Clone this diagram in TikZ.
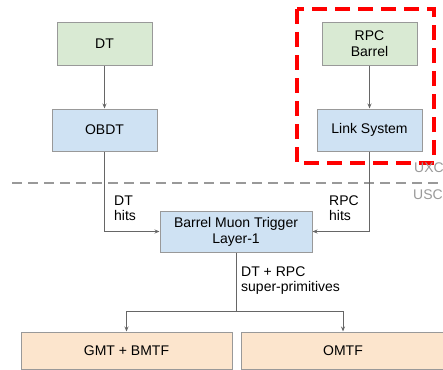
\documentclass[tikz,border=0pt]{standalone}
\usepackage{fontspec}
\setmainfont{Liberation Sans}
\usetikzlibrary{arrows.meta}
\definecolor{gfill}{HTML}{D9EAD3}
\definecolor{bfill}{HTML}{CFE2F3}
\definecolor{ofill}{HTML}{FCE5CD}
\definecolor{bord}{HTML}{999999}
\definecolor{conn}{HTML}{666666}
\tikzset{
  box/.style={draw=bord, line width=1pt, minimum height=42pt, align=center, font=\fontsize{14}{16}\selectfont, inner sep=0pt},
  gbox/.style={box, fill=gfill, minimum width=95pt},
  bbox/.style={box, fill=bfill, minimum width=105pt},
  obox/.style={box, fill=ofill, minimum height=37pt},
  conn/.style={draw=conn, line width=0.8pt, -{Stealth[length=5pt,width=4pt]}},
  lbl/.style={font=\fontsize{14}{15}\selectfont, align=left, inner sep=0pt, anchor=north west},
  zone/.style={font=\fontsize{14}{15}\selectfont, text=bord, inner sep=0pt, anchor=west}
}
\begin{document}
\begin{tikzpicture}[x=1pt,y=-1pt]
\useasboundingbox (0,0) rectangle (443,369);
\node[gbox] (dt) at (104.5,44) {DT};
\node[bbox] (obdt) at (104.5,130) {OBDT};
\node[gbox] (rpc) at (369.5,44) {RPC\\Barrel};
\node[bbox] (link) at (369.5,130) {Link System};
\node[box, fill=bfill, minimum width=152pt, minimum height=41pt] (bmt) at (236,231.5) {Barrel Muon Trigger\\Layer-1};
\node[obox, minimum width=211pt] (gmt) at (126.5,350.5) {GMT + BMTF};
\node[obox, minimum width=204pt] (omtf) at (343,350.5) {OMTF};
% red dashed region
\draw[red, line width=4pt, dash pattern=on 15pt off 8pt] (297,9) rectangle (434,163);
% zone divider
\draw[bord, line width=2.5pt, dash pattern=on 10pt off 6pt] (12,183) -- (443,183);
\node[zone] (uxc) at (414,168) {UXC};
\node[zone] (usc) at (413,195) {USC};
% connectors
\draw[conn] (dt) -- (obdt);
\draw[conn] (rpc) -- (link);
\coordinate (c1) at (obdt.south |- bmt.west);
\coordinate (c2) at (link.south |- bmt.east);
\draw[conn] (obdt.south) -- (c1) -- (bmt.west);
\draw[conn] (link.south) -- (c2) -- (bmt.east);
\coordinate (sp) at (236,311);
\coordinate (sl) at (gmt.north |- sp);
\coordinate (sr) at (omtf.north |- sp);
\draw[draw=conn, line width=0.8pt] (bmt.south) -- (sp);
\draw[conn] (sp) -- (sl) -- (gmt.north);
\draw[conn] (sp) -- (sr) -- (omtf.north);
% labels
\node[lbl] (ldt) at (114,196) {DT\\hits};
\node[lbl] (lrpc) at (329,196) {RPC\\hits};
\node[lbl] (lsp) at (241,267) {DT + RPC\\super-primitives};
\end{tikzpicture}
\end{document}
